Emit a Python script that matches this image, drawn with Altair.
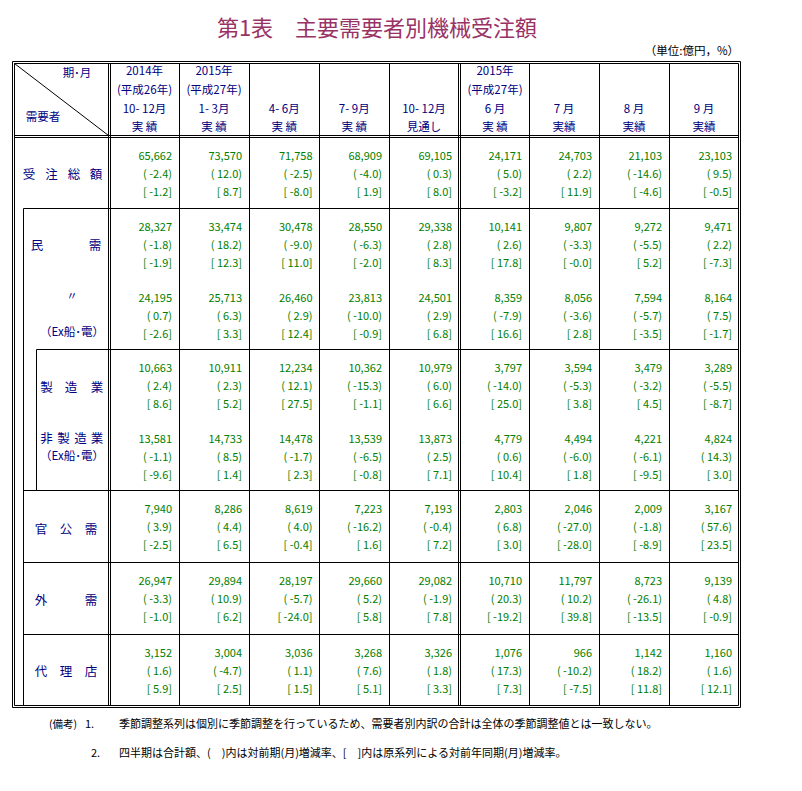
import altair as alt
import pandas as pd

FONT = "Noto Sans CJK JP"
NAVY = "#000080"
GREEN = "#008000"
TITLE_C = "#993366"

# ---------------- data ----------------
title = "第1表　主要需要者別機械受注額"
unit = "（単位:億円，%）"
header_year = ["2014年", "2015年", "", "", "", "2015年", "", "", ""]
header_era = ["(平成26年)", "(平成27年)", "", "", "", "(平成27年)", "", "", ""]
header_period = ["10- 12月", "1- 3月", "4- 6月", "7- 9月", "10- 12月", "6 月", "7 月", "8 月", "9 月"]
header_kind = ["実 績", "実 績", "実 績", "実 績", "見通し", "実 績", "実績", "実績", "実績"]

row_names = ["受注総額", "民需", "民需(Ex船・電)", "製造業", "非製造業(Ex船・電)", "官公需", "外需", "代理店"]

amount = [
    [65662, 73570, 71758, 68909, 69105, 24171, 24703, 21103, 23103],
    [28327, 33474, 30478, 28550, 29338, 10141, 9807, 9272, 9471],
    [24195, 25713, 26460, 23813, 24501, 8359, 8056, 7594, 8164],
    [10663, 10911, 12234, 10362, 10979, 3797, 3594, 3479, 3289],
    [13581, 14733, 14478, 13539, 13873, 4779, 4494, 4221, 4824],
    [7940, 8286, 8619, 7223, 7193, 2803, 2046, 2009, 3167],
    [26947, 29894, 28197, 29660, 29082, 10710, 11797, 8723, 9139],
    [3152, 3004, 3036, 3268, 3326, 1076, 966, 1142, 1160],
]
chg_prev = [
    [-2.4, 12.0, -2.5, -4.0, 0.3, 5.0, 2.2, -14.6, 9.5],
    [-1.8, 18.2, -9.0, -6.3, 2.8, 2.6, -3.3, -5.5, 2.2],
    [0.7, 6.3, 2.9, -10.0, 2.9, -7.9, -3.6, -5.7, 7.5],
    [2.4, 2.3, 12.1, -15.3, 6.0, -14.0, -5.3, -3.2, -5.5],
    [-1.1, 8.5, -1.7, -6.5, 2.5, 0.6, -6.0, -6.1, 14.3],
    [3.9, 4.4, 4.0, -16.2, -0.4, 6.8, -27.0, -1.8, 57.6],
    [-3.3, 10.9, -5.7, 5.2, -1.9, 20.3, 10.2, -26.1, 4.8],
    [1.6, -4.7, 1.1, 7.6, 1.8, 17.3, -10.2, 18.2, 1.6],
]
chg_yoy = [
    [-1.2, 8.7, -8.0, 1.9, 8.0, -3.2, 11.9, -4.6, -0.5],
    [-1.9, 12.3, 11.0, -2.0, 8.3, 17.8, -0.0, 5.2, -7.3],
    [-2.6, 3.3, 12.4, -0.9, 6.8, 16.6, 2.8, -3.5, -1.7],
    [8.6, 5.2, 27.5, -1.1, 6.6, 25.0, 3.8, 4.5, -8.7],
    [-9.6, 1.4, 2.3, -0.8, 7.1, 10.4, 1.8, -9.5, 3.0],
    [-2.5, 6.5, -0.4, 1.6, 7.2, 3.0, -28.0, -8.9, 23.5],
    [-1.0, 6.2, -24.0, 5.8, 7.8, -19.2, 39.8, -13.5, -0.9],
    [5.9, 2.5, 1.5, 5.1, 3.3, 7.3, -7.5, 11.8, 12.1],
]

notes_1 = ["(備考)", "1.", "季節調整系列は個別に季節調整を行っているため、需要者別内訳の合計は全体の季節調整値とは一致しない。"]
notes_2 = ["2.", "四半期は合計額、(　)内は対前期(月)増減率、[　]内は原系列による対前年同期(月)増減率。"]

# ---------------- layout ----------------
col_left = [110, 179, 249, 319.5, 389, 461, 529, 599, 669]
col_right = [179, 249, 319.5, 389, 459, 529, 599, 669, 739]
row_top = [137, 208, 278.5, 349, 419.5, 490, 562, 634]
line_off = [20, 38, 56]
header_y = [72, 91, 110, 128]

label_layout = [
    ("受注総額", [29, 51.5, 74, 96], 175, 12.5),
    ("民需", [37, 95], 246, 12.5),
    ("〃", [72], 297, 11),
    ("製造業", [46.5, 71, 97], 388, 12.5),
    ("非製造業", [46.5, 63.5, 80.5, 97], 439, 12.5),
    ("官公需", [41, 66, 91], 530, 12.5),
    ("外需", [41, 91], 601, 12.5),
    ("代理店", [41, 66, 91], 672, 12.5),
]
ex_labels = [("（Ex船･電）", 72, 333), ("（Ex船･電）", 72, 457)]

# ---------------- frames ----------------
vals = []
for r in range(len(row_names)):
    for c in range(9):
        xr = col_right[c] - 7
        top = row_top[r]
        vals.append(dict(x=xr, y=top + line_off[0], text=f"{amount[r][c]:,}", color=GREEN, size=11))
        vals.append(dict(x=xr, y=top + line_off[1], text=f"( {chg_prev[r][c]:.1f})", color=GREEN, size=11))
        vals.append(dict(x=xr, y=top + line_off[2], text=f"[ {chg_yoy[r][c]:.1f}]", color=GREEN, size=11))
vals.append(dict(x=739, y=52, text=unit, color="#000000", size=11.5))
df_right = pd.DataFrame(vals)

cen = []
for c in range(9):
    xc = (col_left[c] + col_right[c]) / 2
    for lines, yy in zip([header_year, header_era, header_period, header_kind], header_y):
        if lines[c]:
            cen.append(dict(x=xc, y=yy, text=lines[c], color=NAVY, size=11.5))
cen.append(dict(x=77, y=74, text="期･月", color=NAVY, size=11.5))
cen.append(dict(x=43, y=118, text="需要者", color=NAVY, size=11.5))
for chars, xs_, yy, sz in label_layout:
    for ch, xx in zip(chars, xs_):
        cen.append(dict(x=xx, y=yy, text=ch, color=NAVY, size=sz))
for t, xx, yy in ex_labels:
    cen.append(dict(x=xx, y=yy, text=t, color=NAVY, size=11.5))
cen.append(dict(x=377, y=29, text=title, color=TITLE_C, size=22))
df_center = pd.DataFrame(cen)

left = [
    dict(x=49, y=725, text=notes_1[0], color="#000000", size=10.5),
    dict(x=85, y=725, text=notes_1[1], color="#000000", size=11),
    dict(x=119, y=725, text=notes_1[2], color="#000000", size=11),
    dict(x=91, y=754, text=notes_2[0], color="#000000", size=11),
    dict(x=119, y=754, text=notes_2[1], color="#000000", size=11),
]
df_left = pd.DataFrame(left)

segs = []
def seg(x1, y1, x2, y2):
    segs.append(dict(x=x1 + 0.5, y=y1 + 0.5, x2=x2 + 0.5, y2=y2 + 0.5))

for (l, t, r, b) in [(12, 61, 740, 707), (14, 63, 738, 705)]:
    seg(l, t, r, t); seg(l, b, r, b); seg(l, t, l, b); seg(r, t, r, b)
for xx in [108, 110, 458, 460]:
    seg(xx, 63, xx, 705)
for xx in [179, 249, 319, 389, 529, 599, 669]:
    seg(xx, 63, xx, 705)
seg(14, 135, 738, 135); seg(14, 137, 738, 137)
seg(23, 208, 738, 208)
seg(36, 349, 738, 349)
for yy in [490, 562, 634]:
    seg(23, yy, 738, yy)
seg(23, 208, 23, 705)
seg(36, 349, 36, 490)
seg(14, 63, 108, 135)
df_lines = pd.DataFrame(segs)

# ---------------- chart ----------------
xs = alt.Scale(domain=[8, 790], nice=False, zero=False)
ys = alt.Scale(domain=[8, 775], nice=False, zero=False, reverse=True)
X = alt.X("x:Q", scale=xs, axis=None)
Y = alt.Y("y:Q", scale=ys, axis=None)

rules = alt.Chart(df_lines).mark_rule(color="black", strokeWidth=1).encode(
    x=X, y=Y, x2="x2:Q", y2="y2:Q"
)

def text_layer(df, align):
    return alt.Chart(df).mark_text(align=align, baseline="middle", font=FONT).encode(
        x=X, y=Y, text="text:N",
        color=alt.Color("color:N", scale=None),
        size=alt.Size("size:Q", scale=None),
    )

chart = alt.layer(
    rules,
    text_layer(df_right, "right"),
    text_layer(df_center, "center"),
    text_layer(df_left, "left"),
).properties(
    width=782, height=767, padding=0, autosize="none", background="white"
).configure_view(stroke=None)

chart.save("out.html", embed_options={"renderer": "svg", "actions": False})
